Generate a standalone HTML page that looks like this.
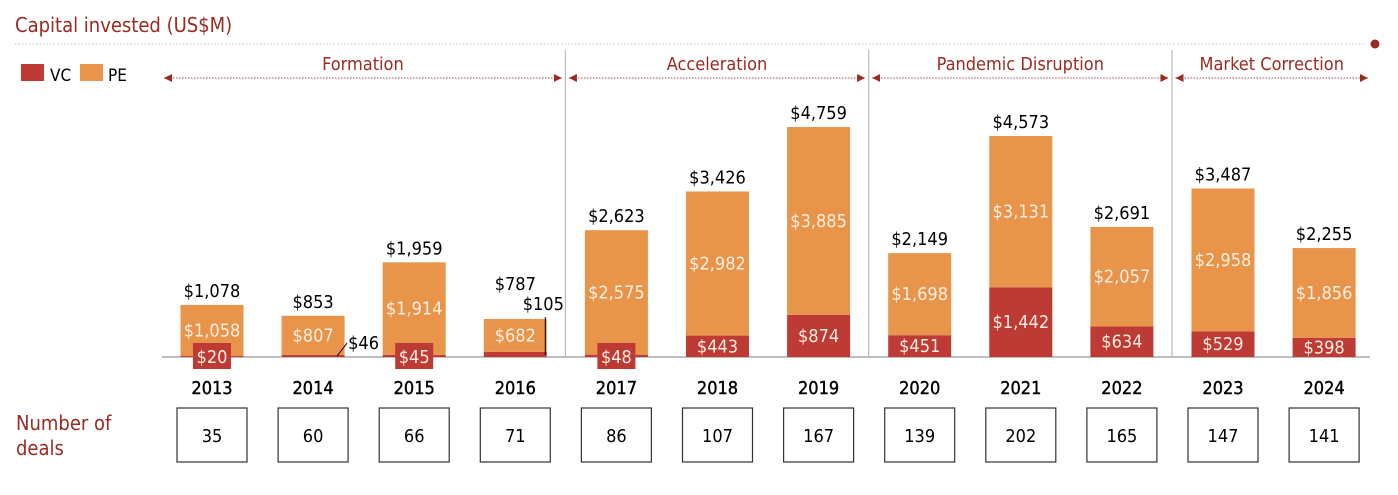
<!DOCTYPE html>
<html><head><meta charset="utf-8"><style>
body{margin:0;background:#fff;width:1398px;height:491px;overflow:hidden;font-family:"DejaVu Sans Condensed","Liberation Sans",sans-serif}
svg text{font-family:"DejaVu Sans Condensed","Liberation Sans",sans-serif}
</style></head><body>
<svg id="c" width="1398" height="491" xmlns="http://www.w3.org/2000/svg">
<text x="15" y="32" font-size="20" fill="#9b2a22">Capital invested (US$M)</text>
<line x1="15" y1="44" x2="1366" y2="44" stroke="#d9bcbc" stroke-dasharray="1.5 2"/>
<circle cx="1375" cy="44" r="4.5" fill="#9b2a22"/>
<rect x="21" y="64" width="23" height="17" fill="#BE3A34"/>
<text x="50" y="81" font-size="17" fill="#000">VC</text>
<rect x="80" y="64" width="23" height="17" fill="#E8944A"/>
<text x="108" y="81" font-size="17" fill="#000">PE</text>
<text x="16" y="430" font-size="20" fill="#9b2a22">Number of</text>
<text x="16" y="455" font-size="20" fill="#9b2a22">deals</text>
<g id="g"></g>
</svg>
<script>
const years=["2013","2014","2015","2016","2017","2018","2019","2020","2021","2022","2023","2024"];
const vc=[20,46,45,105,48,443,874,451,1442,634,529,398];
const pe=[1058,807,1914,682,2575,2982,3885,1698,3131,2057,2958,1856];
const totals=[1078,853,1959,787,2623,3426,4759,2149,4573,2691,3487,2255];
const deals=[35,60,66,71,86,107,167,139,202,165,147,141];
const phases=["Formation","Acceleration","Pandemic Disruption","Market Correction"];
const phaseStart=[0,4,7,10];
const phaseEnd=[3,6,9,11];
const NS="http://www.w3.org/2000/svg";
const g=document.getElementById('g');
const base=357,k=230/4759,bw=63,FS=18;
const xc=i=>212+i*101.1;
const y=v=>base-v*k;
const fmt=v=>"$"+v.toLocaleString('en-US');
function mk(t,a,p){const e=document.createElementNS(NS,t);for(const n in a)e.setAttribute(n,a[n]);(p||g).appendChild(e);return e;}
let bl=mk('line',{x1:162,y1:base,x2:1370,y2:base,stroke:'#aaa','stroke-width':1.5});


const defs=mk('defs',{});
const m=mk('marker',{id:'ar',viewBox:'0 0 10 10',refX:10,refY:5,markerWidth:8,markerHeight:8,markerUnits:'userSpaceOnUse',orient:'auto-start-reverse'},defs);
mk('path',{d:'M0,0L10,5L0,10z',fill:'#9b2a22'},m);
phases.forEach((p,j)=>{
  const x1=j==0?162:xc(phaseStart[j])-50.5+1;
  const x2=j==3?1370:xc(phaseEnd[j])+50.5-2;
  const l=mk('line',{x1:x1+2,y1:78,x2:x2-2,y2:78,stroke:'#b07070','stroke-width':1.2,'stroke-dasharray':'1.5 1.5','marker-start':'url(#ar)','marker-end':'url(#ar)'});
  
  
  const t=mk('text',{x:(x1+x2)/2,y:70,'font-size':FS,fill:'#9b2a22','text-anchor':'middle'});
  t.textContent=p;
  
  
  if(j>0){const d=mk('line',{x1:x1-1.5,y1:50,x2:x1-1.5,y2:base,stroke:'#bbb','stroke-width':1.2});
  
  }
});
years.forEach((yr,i)=>{
  const x=xc(i);
  const r1=mk('rect',{x:x-bw/2,y:y(vc[i]),width:bw,height:vc[i]*k,fill:'#BE3A34'});
  
  
  const r2=mk('rect',{x:x-bw/2,y:y(vc[i]+pe[i]),width:bw,height:pe[i]*k,fill:'#E8944A'});
  
  
  const tt=mk('text',{x:x,y:y(totals[i])-(yr==="2016"?29:8),'font-size':FS,fill:'#000','text-anchor':'middle'});
  tt.textContent=fmt(totals[i]);
  
  
  const pt=mk('text',{x:x,y:(y(vc[i])+y(vc[i]+pe[i]))/2+6,'font-size':FS,fill:'#fdeee0','text-anchor':'middle'});
  pt.textContent=fmt(pe[i]);
  
  
  let vt;
  if(vc[i]>=300){
    vt=mk('text',{x:x,y:(base+y(vc[i]))/2+6,'font-size':FS,fill:'#fdeee0','text-anchor':'middle'});
  } else if(yr==="2014"){
    mk('line',{x1:x+24,y1:base-1,x2:x+34,y2:base-14,stroke:'#000'});
    vt=mk('text',{x:x+35,y:base-8,'font-size':FS,fill:'#000'});
  } else if(yr==="2016"){
    mk('line',{x1:x+30,y1:base-2,x2:x+30,y2:317,stroke:'#000'});
    vt=mk('text',{x:x+28,y:310,'font-size':FS,fill:'#000','text-anchor':'middle'});
  } else {
    const b=mk('rect',{x:x-19,y:base-14,width:38,height:26,fill:'#BE3A34'});
    
    
    vt=mk('text',{x:x,y:base+6,'font-size':FS,fill:'#fdeee0','text-anchor':'middle'});
  }
  vt.textContent=fmt(vc[i]);
  
  
  const yt=mk('text',{x:x,y:394,'font-size':FS,fill:'#000','text-anchor':'middle',stroke:'#000','stroke-width':0.4});
  yt.textContent=yr;
  
  
  const db=mk('rect',{x:x-35,y:408,width:70,height:54,fill:'#fff',stroke:'#333','stroke-width':1.2});
  
  
  const dt=mk('text',{x:x,y:442,'font-size':FS,fill:'#000','text-anchor':'middle'});
  dt.textContent=deals[i];
  
  
});
</script>
</body></html>
